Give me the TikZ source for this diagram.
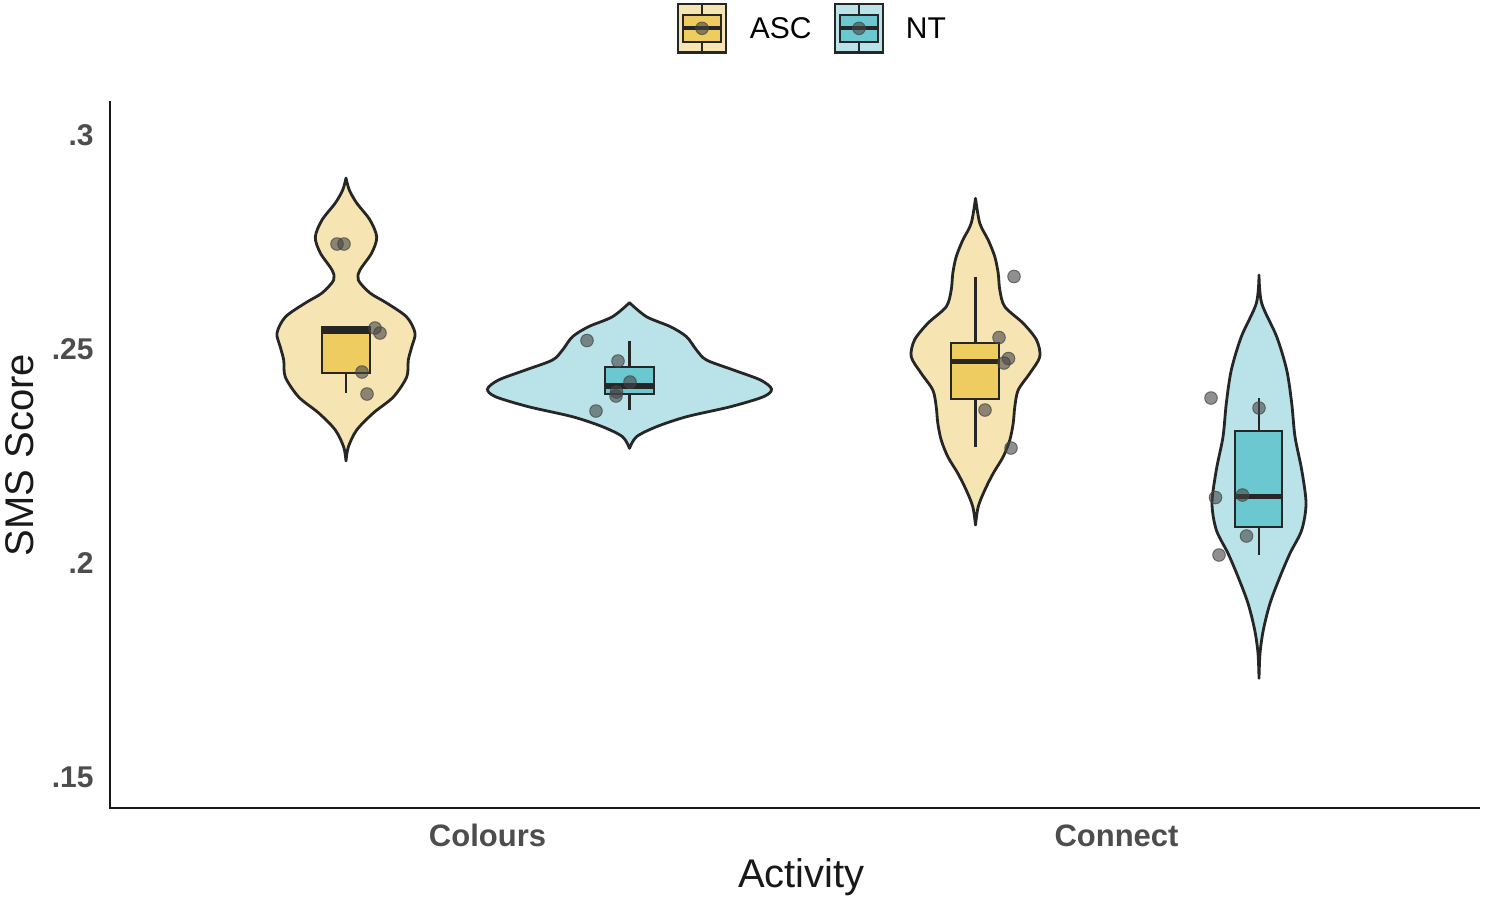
\documentclass[tikz,border=0pt]{standalone}
\usepackage{fontspec}
\setmainfont{Liberation Sans}
\definecolor{ascL}{HTML}{F7E4B3}
\definecolor{ascD}{HTML}{EECC60}
\definecolor{ntL}{HTML}{B9E3E8}
\definecolor{ntD}{HTML}{6BC8D0}
\definecolor{outl}{HTML}{262626}
\definecolor{ptg}{HTML}{454545}
\definecolor{tickg}{HTML}{4D4D4D}
\begin{document}
\begin{tikzpicture}[x=0.5pt,y=-0.5pt,
  violin/.style={draw=outl,line width=1.4pt,line join=round},
  boxsty/.style={draw=outl,line width=1.1pt},
  med/.style={draw=outl,line width=2.6pt},
  whisk/.style={draw=outl,line width=1.1pt},
  jit/.style={fill=ptg,fill opacity=0.6,draw=ptg,draw opacity=0.7,line width=0.5pt},
  ticklab/.style={font=\fontsize{15}{18}\selectfont\bfseries,text=tickg,inner sep=0pt,anchor=east},
  catlab/.style={font=\fontsize{15.5}{18}\selectfont\bfseries,text=tickg,inner sep=0pt,anchor=base},
  title/.style={font=\fontsize{20}{24}\selectfont,text=black!90,inner sep=0pt,anchor=base},
  legtext/.style={font=\fontsize{15}{18}\selectfont,text=black,inner sep=0pt,anchor=base west}]
\useasboundingbox[fill=white] (0,0) rectangle (1498,902);

% ---------- violins ----------
\begin{scope}[shift={(346,0)}]
\draw[violin,fill=ascL] plot[smooth] coordinates {(0,178) (3.3,190) (10.7,203) (24,220) (30.7,237) (25.7,253) (14,270) (12.3,280) (24,293) (40.7,303) (60.7,317) (69,333) (65.7,347) (62.3,360) (60.7,377) (47.3,397) (27.3,413) (10.7,430) (2.3,447) (0,461)}
 -- plot[smooth] coordinates {(0,461) (-2.3,447) (-10.7,430) (-27.3,413) (-47.3,397) (-60.7,377) (-62.3,360) (-65.7,347) (-69,333) (-60.7,317) (-40.7,303) (-24,293) (-12.3,280) (-14,270) (-25.7,253) (-30.7,237) (-24,220) (-10.7,203) (-3.3,190) (0,178)} -- cycle;
\end{scope}
\begin{scope}[shift={(629.5,0)}]
\draw[violin,fill=ntL] plot[smooth] coordinates {(0,302.7) (17,316.7) (41,326.7) (57,336.7) (67,350) (77,360) (104,370) (131,380) (142,389) (134,396.7) (101,406.7) (57,416.7) (27,426.7) (7,436.7) (0,448.3)}
 -- plot[smooth] coordinates {(0,448.3) (-7,436.7) (-27,426.7) (-57,416.7) (-101,406.7) (-134,396.7) (-142,389) (-131,380) (-104,370) (-77,360) (-67,350) (-57,336.7) (-41,326.7) (-17,316.7) (0,302.7)} -- cycle;
\end{scope}
\begin{scope}[shift={(975.5,0)}]
\draw[violin,fill=ascL] plot[smooth] coordinates {(0,198.3) (4.3,223.3) (12.7,240) (19.3,256.7) (22.7,273.3) (24.3,290) (29.3,306.7) (47.7,323.3) (61,340) (64.3,356.7) (54.3,373.3) (42.7,390) (39.3,406.7) (37.7,423.3) (34.3,440) (27.7,456.7) (17.7,473.3) (9.3,490) (2.7,506.7) (0,525)}
 -- plot[smooth] coordinates {(0,525) (-2.7,506.7) (-9.3,490) (-17.7,473.3) (-27.7,456.7) (-34.3,440) (-37.7,423.3) (-39.3,406.7) (-42.7,390) (-54.3,373.3) (-64.3,356.7) (-61,340) (-47.7,323.3) (-29.3,306.7) (-24.3,290) (-22.7,273.3) (-19.3,256.7) (-12.7,240) (-4.3,223.3) (0,198.3)} -- cycle;
\end{scope}
\begin{scope}[shift={(1259,0)}]
\draw[violin,fill=ntL] plot[smooth] coordinates {(0,275) (2.7,303.3) (17.7,336.7) (27.7,370) (32.7,403.3) (36,436.7) (42.7,470) (47,503.3) (42.7,530) (31,553.3) (21,576.7) (11,603.3) (4.3,630) (1,653.3) (0,678.3)}
 -- plot[smooth] coordinates {(0,678.3) (-1,653.3) (-4.3,630) (-11,603.3) (-21,576.7) (-31,553.3) (-42.7,530) (-47,503.3) (-42.7,470) (-36,436.7) (-32.7,403.3) (-27.7,370) (-17.7,336.7) (-2.7,303.3) (0,275)} -- cycle;
\end{scope}

% ---------- boxplots ----------
% ASC Colours
\draw[whisk] (346,373) -- (346,393);
\draw[boxsty,fill=ascD] (322,327) rectangle (370,373);
\draw[med] (322,331) -- (370,331);
% NT Colours
\draw[whisk] (629.5,340.7) -- (629.5,410);
\draw[boxsty,fill=ntD] (605,366.7) rectangle (654,394);
\draw[med] (605,386) -- (654,386);
% ASC Connect
\draw[whisk] (975.5,277.3) -- (975.5,447.3);
\draw[boxsty,fill=ascD] (951,343.3) rectangle (999.3,399.3);
\draw[med] (951,361.7) -- (999.3,361.7);
% NT Connect
\draw[whisk] (1259,398.3) -- (1259,555);
\draw[boxsty,fill=ntD] (1235,430.7) rectangle (1282.3,526.7);
\draw[med] (1235,496.7) -- (1282.3,496.7);

% ---------- jittered points ----------
\foreach \px/\py in {337/244, 344/244, 375/328, 380/333, 362/372, 367/394,
  587/340.5, 618/361, 630/382, 616.5/392, 616/396, 596/411,
  1014/276.5, 999/337.5, 1008.5/358.5, 1004/363, 985/410, 1011/448,
  1211/398, 1259/408, 1215.5/497.5, 1242.5/495, 1246.5/536, 1219/555}
  \fill[jit] (\px,\py) circle (6.3);

% ---------- axes ----------
\draw[line width=1.35pt,draw=black!90] (110,101) -- (110,808) -- (1480,808);
\node[ticklab] (t30) at (94,135) {.3};
\node[ticklab] (t25) at (94,349) {.25};
\node[ticklab] (t20) at (94,563) {.2};
\node[ticklab] (t15) at (94,777) {.15};
\node[catlab] (cColours) at (487.5,846.7) {Colours};
\node[catlab] (cConnect) at (1116.5,846.7) {Connect};
\node[title] (xtitle) at (801.5,887.5) {Activity};
\node[title,rotate=90] (ytitle) at (33,455) {SMS Score};

% ---------- legend ----------
\draw[boxsty,fill=ascL] (678,4) rectangle (726,52.5);
\draw[whisk] (702,4) -- (702,52.5);
\draw[boxsty,fill=ascD] (683,15) rectangle (721,42);
\draw[med,line width=2pt] (683,28.3) -- (721,28.3);
\fill[jit] (702,28.3) circle (6.3);
\node[legtext] (lASC) at (749.5,38.5) {ASC};

\draw[boxsty,fill=ntL] (835,4) rectangle (883,52.5);
\draw[whisk] (859,4) -- (859,52.5);
\draw[boxsty,fill=ntD] (840,15) rectangle (878,42);
\draw[med,line width=2pt] (840,28.3) -- (878,28.3);
\fill[jit] (859,28.3) circle (6.3);
\node[legtext] (lNT) at (905.5,38.5) {NT};
\end{tikzpicture}
\end{document}
